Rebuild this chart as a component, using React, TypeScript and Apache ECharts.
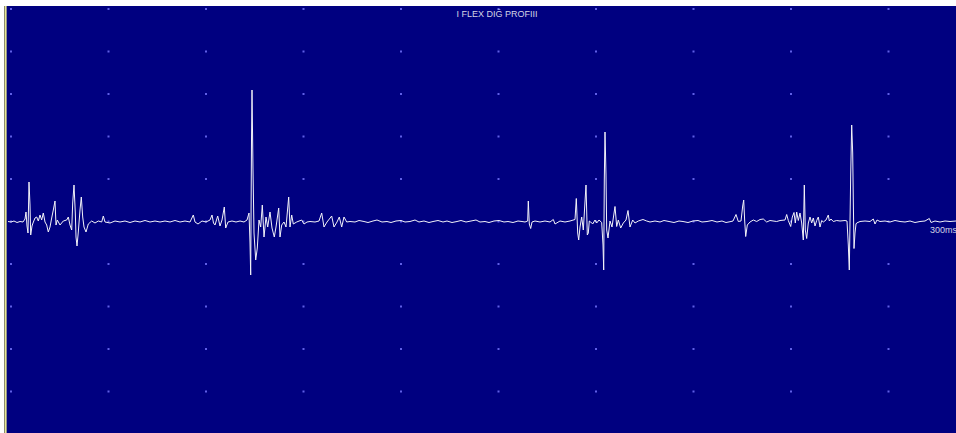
import React, { useEffect, useRef } from "react";
import * as echarts from "echarts";

// x: sample index (3.25 kHz, 97.5 samples = 30 ms per division), y: amplitude in µV (85 µV per division)
const TITLE = "I FLEX DIĞ PROFIII";
const SWEEP_LABEL = "300ms";
const SAMPLES_PER_DIV = 97.5;
const UV_PER_DIV = 85;
const X_DIV_COUNT = 10;
const Y_DIV_TOP = 5;
const Y_DIV_BOTTOM = -4;

const burst1: [number, number][] = [
  [-3, 0], [0, -1], [3, 1], [6, -2], [9, 0], [12, -1], [14, 5], [15, 19], [16, -9], [17, -23],
  [18, 79], [19, 33], [19.7, -27], [21, -9], [22, -3], [24, 7], [25.7, 9], [27.3, 1], [29, 13],
  [30.7, 3], [32.3, 17], [34, -1], [35.7, -7], [37.3, -21], [39, -11], [40.7, 7], [42.3, 23],
  [44, 41], [45, -7], [46.3, 3], [49, -7], [52.3, 1], [55.7, 3], [57.3, 9], [59, -7], [60.7, -17],
  [61.7, 37], [63, 73], [64.3, 17], [65, -31], [66, -49], [67.3, -21], [69, 23], [70.3, 49],
  [71.7, 9], [73, -11], [75, -21], [77.3, -5], [80.7, 1], [84, -3], [87.3, 1], [90.7, -1],
  [92.3, 11], [94, -1], [99, -3], [104, 1], [109, -1],
];

const quiet1: [number, number][] = [
  [114, 1], [119, -2], [124, 1], [129, -1], [134, 2], [139, -1], [144, 1], [149, -1], [154, 1],
  [159, -1], [164, 2], [169, -1], [174, 1], [179, -1],
];

const burst2: [number, number][] = [
  [182.3, 13], [184, -1], [187, -5], [191, 1], [195, -1], [199, 3], [201, 13], [202.5, -3],
  [204, -7], [206.7, 11], [209, -9], [211, 3], [213.3, 29], [214.7, -13], [217, -1], [221, 1],
  [225, -1], [229, 1], [233, -1], [236, 3], [238, 17], [239, -43], [239.7, -107], [240.5, 163],
  [241, 263], [242, 103], [243, -23], [244.7, -77], [246.3, -53], [248, 3], [249.7, -11],
  [251.3, 33], [253, -31], [255, 9], [256.7, -11], [259, 19], [261, -13], [263.3, -31], [265, -11],
  [267.7, 27], [269, -31], [270.7, -7], [273, -1], [275, -11], [277.7, 49], [279, -11],
  [280.7, 13], [282.3, -5], [285.7, -1], [290.7, 3], [293, -5], [296, -1], [299, 0], [304, -1],
  [308, 1], [310.7, 17], [313, -11], [316, -1], [320.7, 11], [323, -11], [326, -1], [328.3, 9],
  [330.7, -11], [333, 9], [335.7, -1], [339, 0],
];

const quiet2: [number, number][] = [
  [344, -1], [348, 2], [353, 0], [357, -2], [362, 1], [366, 3], [371, -1], [376, 0], [380, -2],
  [385, 1], [390, 2], [394, -1], [399, 0], [404, 3], [408, -1], [413, 1], [418, -2], [422, 0],
  [427, 2], [432, -1], [436, 1], [441, -2], [446, 0], [450, 2], [455, -1], [460, 1], [465, 3],
  [469, -1], [474, 0], [478, -2], [483, 1], [488, 2], [493, -1], [497, 0], [502, -2], [507, 1],
  [511, 0], [514, -1],
];

const burst3: [number, number][] = [
  [516.7, 1], [517.3, 41], [518.3, -5], [519.7, -14], [521, -1], [524, 1], [529, -1], [534, 1],
  [539, -1], [542.3, 4], [544, -5], [549, 1], [554, -1], [559, 1], [564, 4], [565.3, 46],
  [566.7, -23], [567.7, -37], [569, -11], [570.7, 9], [572.3, -17], [575, 73], [576.3, -27],
  [577.3, -23], [578.3, 1], [579.7, -1], [581.7, -5], [584, 3], [585.7, -3], [588, 3],
  [590.7, -2], [592, -47], [592.7, -97], [593.3, 83], [594, 179], [595, 93], [595.7, -17],
  [597, -33], [599, 1], [601, -11], [604, 30], [605.7, -10], [607.3, 3], [609.7, -13],
  [612.3, -3], [615, 3], [617, 22], [619, -11], [621.7, 3], [624, -3], [627.3, 1], [632, 4],
  [635.7, 1], [639, -1],
];

const quiet3: [number, number][] = [
  [644, 1], [649, -1], [653, 2], [658, 0], [663, -2], [668, 1], [672, 0], [677, -2], [682, 1],
  [687, 2], [691, -1], [696, 0], [701, 2], [706, -1], [711, 1], [715, -2], [720, 0], [722, 1],
];

const burst4: [number, number][] = [
  [725, 14], [727.3, 0], [730, 1], [731.7, 31], [732.7, 43], [733.7, 1], [734.7, -30],
  [736.3, -7], [739, -1], [742.3, 3], [745.7, 0], [749, 4], [752.3, 5], [755.7, -1], [759, 2],
  [765.7, 0], [769, 2], [774, 3], [775.7, 14], [777.3, 2], [779.7, -10], [781.3, 9], [783, 18],
  [784.3, -3], [785.7, 19], [787.3, 2], [789, 17], [790.7, -3], [792.3, -37], [793.3, 73],
  [794.3, -17], [795.7, -34], [797.3, -3], [799, 9], [800.7, -3], [802.3, 7], [804, -9],
  [805.7, 2], [807.3, 9], [809, -11], [810.7, 2], [812.3, -1], [815, 3], [817.3, 13],
  [818.3, 1], [820, 5], [822.3, 0], [825.7, 2], [829, 1], [834, 2], [836, 1], [837.3, -47],
  [838.3, -97], [839.7, 93], [840.7, 193], [841.7, 137], [842.3, 43], [843, -54], [844, -23],
  [845, -5], [845.7, -3], [849, 0], [854, 1], [859, 0], [862.3, 5], [864, -5], [866, 3], [869, 0],
];

const tail: [number, number][] = [
  [874, 1], [879, -1], [884, 2], [889, 0], [894, -1], [899, 1], [904, -2], [909, 0], [914, 1],
  [918.3, 6], [920, -2], [924, 1], [929, -1], [934, 1], [939, 0], [945, 1],
];

export default function App() {
  const ref = useRef<HTMLDivElement>(null);

  useEffect(() => {
    document.body.style.margin = "0";
    if (!ref.current) return;
    const chart = echarts.init(ref.current, null, { renderer: "svg" });

    const trace = [...burst1, ...quiet1, ...burst2, ...quiet2, ...burst3, ...quiet3, ...burst4, ...tail];

    const dots: [number, number][] = [];
    for (let i = 0; i < X_DIV_COUNT; i++) {
      for (let j = Y_DIV_BOTTOM; j <= Y_DIV_TOP; j++) {
        dots.push([i * SAMPLES_PER_DIV, j * UV_PER_DIV]);
      }
    }

    const gridLeft = 7;
    const gridTop = 6;

    chart.setOption({
      animation: false,
      backgroundColor: "#ffffff",
      grid: {
        left: gridLeft,
        top: gridTop,
        right: 0,
        bottom: 0,
        show: true,
        backgroundColor: "#000080",
        borderWidth: 0,
      },
      xAxis: {
        type: "value",
        min: -4,
        max: 945,
        show: false,
      },
      yAxis: {
        type: "value",
        min: -423,
        max: 431,
        show: false,
      },
      graphic: [
        { type: "rect", shape: { x: 4, y: gridTop, width: 1, height: 433 - gridTop }, style: { fill: "#8c8c70" } },
        { type: "rect", shape: { x: 5, y: gridTop, width: 1, height: 433 - gridTop }, style: { fill: "#e8e890" } },
        { type: "rect", shape: { x: 6, y: gridTop, width: 1, height: 433 - gridTop }, style: { fill: "#909090" } },
        {
          type: "text",
          x: 497,
          y: 14,
          style: {
            text: TITLE,
            fill: "#d4d4e4",
            font: "9px 'Liberation Sans', Arial, sans-serif",
            align: "center",
            verticalAlign: "middle",
          },
          z: 10,
        },
        {
          type: "text",
          x: 930,
          y: 230,
          style: {
            text: SWEEP_LABEL,
            fill: "#d4d4e4",
            font: "9px 'Liberation Sans', Arial, sans-serif",
            align: "left",
            verticalAlign: "middle",
          },
          z: 10,
        },
      ],
      series: [
        {
          type: "scatter",
          data: dots,
          symbol: "rect",
          symbolSize: 2,
          silent: true,
          itemStyle: { color: "#7878ff" },
          z: 1,
        },
        {
          type: "line",
          data: trace,
          showSymbol: false,
          silent: true,
          lineStyle: { color: "#f2f2f8", width: 1 },
          z: 2,
        },
      ],
    });

    return () => chart.dispose();
  }, []);

  return <div ref={ref} style={{ width: 956, height: 433 }} />;
}
